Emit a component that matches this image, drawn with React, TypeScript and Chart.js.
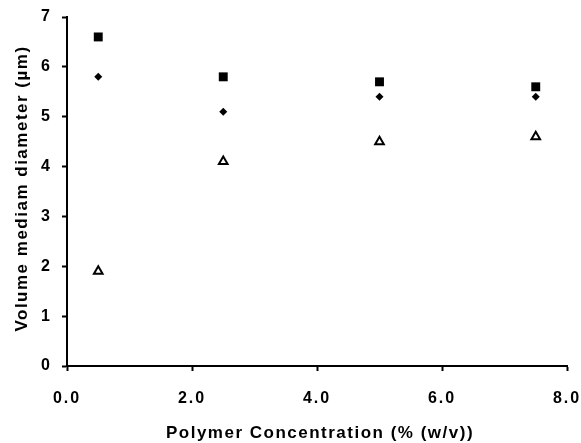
import React, { useEffect, useRef } from "react";
import { Chart, registerables } from "chart.js";

Chart.register(...registerables);

const concentrations = [0.5, 2.5, 5.0, 7.5];
const squareSeries = [6.6, 5.8, 5.7, 5.6];
const diamondSeries = [5.8, 5.1, 5.4, 5.4];
const triangleSeries = [1.9, 4.1, 4.5, 4.6];
const xTicks = [0, 2, 4, 6, 8];
const yTicks = [0, 1, 2, 3, 4, 5, 6, 7];
const xTitle = "Polymer Concentration (% (w/v))";
const yTitle = "Volume mediam diameter (µm)";

const FONT = "'Liberation Sans', Arial, sans-serif";

const spacingPlugin = {
  id: "spacing",
  beforeUpdate(chart: any) {
    chart.ctx.letterSpacing = "2px";
  },
  beforeDraw(chart: any) {
    chart.ctx.letterSpacing = "2px";
  },
  afterDraw(chart: any) {
    const ctx = chart.ctx;
    const a = chart.chartArea;
    ctx.save();
    ctx.letterSpacing = "1.5px";
    ctx.fillStyle = "#000";
    ctx.font = `bold 17px ${FONT}`;
    ctx.textAlign = "center";
    ctx.textBaseline = "middle";
    ctx.fillText(xTitle, (a.left + a.right) / 2 + 3, 433);
    ctx.translate(22, (a.top + a.bottom) / 2 - 3);
    ctx.rotate(-Math.PI / 2);
    ctx.fillText(yTitle, 0, 0);
    ctx.restore();
  },
};

export default function App() {
  const ref = useRef<HTMLCanvasElement | null>(null);
  useEffect(() => {
    document.body.style.margin = "0";
    const toPts = (ys: number[]) => concentrations.map((x, i) => ({ x, y: ys[i] }));
    const chart = new Chart(ref.current!, {
      type: "scatter",
      data: {
        datasets: [
          {
            data: toPts(squareSeries),
            pointStyle: "rect",
            pointRadius: 6.3,
            backgroundColor: "#000",
            borderColor: "#000",
            borderWidth: 0,
          },
          {
            data: toPts(diamondSeries),
            pointStyle: "rectRot",
            pointRadius: 4,
            backgroundColor: "#000",
            borderColor: "#000",
            borderWidth: 0,
          },
          {
            data: toPts(triangleSeries),
            pointStyle: "triangle",
            pointRadius: 5,
            backgroundColor: "#fff",
            borderColor: "#000",
            borderWidth: 2,
          },
        ],
      },
      options: {
        animation: false,
        responsive: false,
        layout: { padding: { top: 17, right: 0, left: 0, bottom: 0 } },
        plugins: { legend: { display: false }, tooltip: { enabled: false } },
        scales: {
          x: {
            type: "linear",
            min: 0,
            max: 8,
            afterBuildTicks: (s: any) => {
              s.ticks = xTicks.map((v) => ({ value: v }));
            },
            afterFit: (s: any) => {
              s.height = 77;
              s.paddingRight = 14;
              s.paddingLeft = 0;
            },
            border: { color: "#000", width: 2 },
            grid: {
              drawOnChartArea: false,
              drawTicks: true,
              tickLength: 5,
              tickColor: "#000",
              tickWidth: 2,
            },
            ticks: {
              color: "#000",
              font: { family: FONT, size: 16, weight: "bold" },
              padding: 18,
              callback: (v: any) => Number(v).toFixed(1),
              maxRotation: 0,
            },
          },
          y: {
            type: "linear",
            min: 0,
            max: 7,
            afterBuildTicks: (s: any) => {
              s.ticks = yTicks.map((v) => ({ value: v }));
            },
            afterFit: (s: any) => {
              s.width = 67;
              s.paddingTop = 0;
              s.paddingBottom = 0;
            },
            border: { color: "#000", width: 2 },
            grid: {
              drawOnChartArea: false,
              drawTicks: true,
              tickLength: 5,
              tickColor: "#000",
              tickWidth: 2,
            },
            ticks: {
              color: "#000",
              font: { family: FONT, size: 16, weight: "bold" },
              padding: 10,
            },
          },
        },
      },
      plugins: [spacingPlugin],
    } as any);
    return () => chart.destroy();
  }, []);
  return <canvas ref={ref} width={581} height={443} style={{ display: "block" }} />;
}
